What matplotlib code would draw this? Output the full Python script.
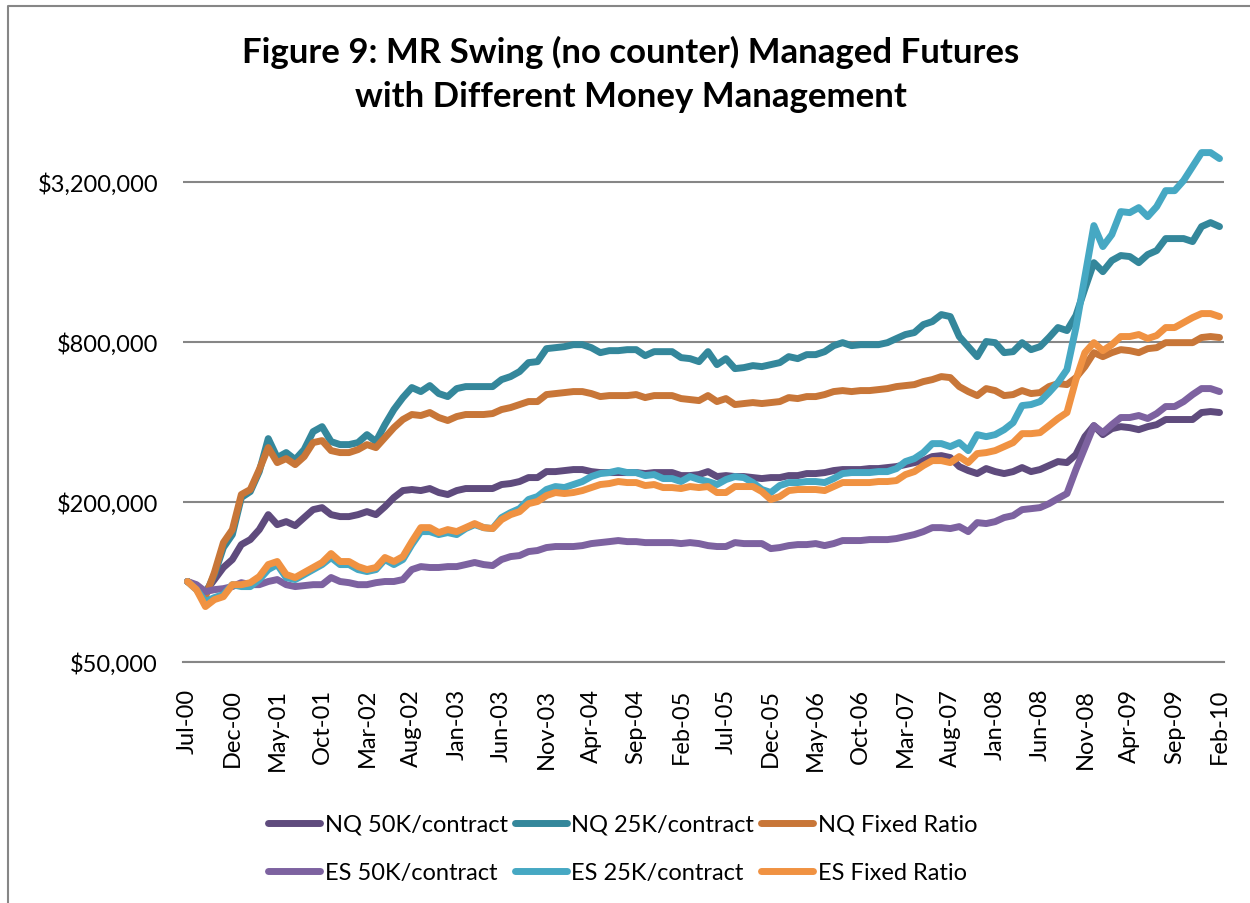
import numpy as np
import pandas as pd
import matplotlib
matplotlib.use("Agg")
import matplotlib.pyplot as plt
from matplotlib.ticker import FixedLocator, NullLocator, FuncFormatter
from matplotlib.lines import Line2D

plt.rcParams['font.family'] = ['Lato', 'DejaVu Sans']

# -------------------------------
# Monthly account equity, Jul-00 .. Feb-10
# -------------------------------

months = pd.date_range("2000-07-01", periods=116, freq="MS")
month_labels = [d.strftime("%b-%y") for d in months]

nq_50k = [100000, 95700, 91600, 101700, 112900, 121000, 137700, 143800, 156800, 178500,
          163700, 168000, 162300, 174000, 186400, 189700, 178500, 175500, 175500, 178500,
          183200, 178500, 191300, 207000, 219900, 221900, 219900, 223800, 216200, 212500,
          219900, 223800, 223800, 223800, 223800, 231700, 233700, 237800, 246100, 246100,
          259200, 259200, 261500, 263800, 263800, 259200, 257000, 257000, 257000, 257000,
          257000, 254800, 257000, 257000, 257000, 250400, 250400, 252600, 259200, 248300,
          250400, 248300, 248300, 246100, 244000, 246100, 246100, 250400, 250400, 254800,
          254800, 257000, 261500, 263800, 263800, 263800, 266100, 266100, 268400, 270700,
          275400, 280200, 285100, 295200, 297700, 292600, 270700, 261500, 254800, 266100,
          259200, 254800, 259200, 268400, 259200, 263800, 273100, 282700, 280200, 300300,
          350900, 385900, 357000, 376000, 382600, 379300, 372800, 382600, 389300, 407000,
          407000, 407000, 407000, 432400, 436100, 432400]

nq_25k = [100000, 94800, 89300, 106200, 134200, 150200, 207000, 218000, 259200, 344900,
          292600, 305600, 287600, 313600, 366400, 382600, 336100, 327500, 327500, 333200,
          357000, 336100, 389300, 443700, 492200, 536800, 518500, 546100, 509600, 496500,
          532100, 541400, 541400, 541400, 541400, 575200, 590400, 616400, 666300, 672100,
          752100, 758600, 765200, 778600, 778600, 758600, 726500, 739200, 739200, 745600,
          745600, 707900, 732800, 732800, 732800, 695800, 689800, 672100, 732800, 654900,
          689800, 632600, 638100, 649300, 643700, 654900, 666300, 701800, 689800, 714100,
          714100, 732800, 771900, 792200, 771900, 778600, 778600, 778600, 792200, 821000,
          849900, 864700, 926600, 951000, 1010400, 993000, 835300, 765200, 701800, 800000,
          792200, 726500, 732800, 792200, 745600, 765200, 828200, 902900, 879800, 1001700,
          1265300, 1584300, 1465700, 1613900, 1685100, 1670600, 1584300, 1699800, 1759500, 1952000,
          1952000, 1952000, 1902100, 2165600, 2241900, 2165600]

nq_fixed = [100000, 94800, 87700, 108100, 140100, 156800, 212500, 221900, 263800, 319100,
            280200, 290100, 275400, 295200, 333200, 339000, 310900, 305600, 305600, 313600,
            327500, 319100, 347900, 379300, 407000, 425000, 421300, 432400, 414100, 403500,
            417600, 425000, 425000, 425000, 428600, 443700, 451400, 463300, 475500, 475500,
            505200, 509600, 514000, 518500, 518500, 509600, 496500, 500800, 500800, 500800,
            505200, 492200, 500800, 500800, 500800, 488000, 483800, 479600, 500800, 475500,
            488000, 463300, 467400, 471400, 467400, 471400, 475500, 492200, 488000, 496500,
            496500, 505200, 518500, 523000, 518500, 523000, 523000, 527500, 532100, 541400,
            546100, 550800, 565400, 575200, 590400, 585200, 541400, 518500, 500800, 532100,
            523000, 500800, 505200, 523000, 509600, 514000, 541400, 555600, 550800, 585200,
            643700, 726500, 701800, 726500, 745600, 739200, 726500, 752100, 758600, 792200,
            792200, 792200, 792200, 828200, 835300, 828200]

es_50k = [100000, 97300, 91600, 93200, 94000, 95700, 99000, 97300, 97300, 100000,
          101700, 97300, 95700, 96500, 97300, 97300, 103500, 100000, 99000, 97300,
          97300, 99000, 100000, 100000, 101700, 110900, 113800, 112900, 112900, 113800,
          113800, 115800, 117900, 115800, 114800, 121000, 124100, 125200, 129600, 130800,
          134200, 135400, 135400, 135400, 136500, 138900, 140100, 141300, 142600, 141300,
          141300, 140100, 140100, 140100, 140100, 138900, 140100, 138900, 136500, 135400,
          135400, 140100, 138900, 138900, 138900, 133000, 134200, 136500, 137700, 137700,
          138900, 136500, 138900, 142600, 142600, 142600, 143800, 143800, 143800, 145100,
          147600, 150200, 154100, 159500, 159500, 158200, 160900, 154100, 166600, 165200,
          168000, 174000, 177000, 186400, 188000, 189700, 196300, 205300, 214300, 263800,
          319100, 385900, 363300, 389300, 414100, 414100, 421300, 410500, 428600, 455400,
          455400, 475500, 505200, 532100, 532100, 518500]

es_25k = [100000, 93200, 84000, 87000, 89300, 97300, 95700, 95700, 101700, 110900,
          115800, 103500, 101700, 106200, 110900, 115800, 123100, 115800, 115800, 110900,
          109000, 110900, 121000, 115800, 121000, 137700, 154100, 154100, 150200, 152800,
          150200, 158200, 163700, 159500, 158200, 174000, 181600, 188000, 203500, 208800,
          221900, 227700, 225700, 231700, 237800, 248300, 254800, 257000, 261500, 257000,
          257000, 250400, 252600, 244000, 244000, 237800, 248300, 241900, 237800, 231700,
          241900, 248300, 246100, 235700, 221900, 216200, 229700, 235700, 235700, 237800,
          237800, 235700, 244000, 254800, 257000, 257000, 257000, 259200, 259200, 266100,
          282700, 290100, 305600, 330300, 330300, 321800, 333200, 310900, 357000, 350900,
          357000, 372800, 396100, 459300, 463300, 475500, 514000, 560500, 627200, 902900,
          1403700, 2184500, 1821400, 2020800, 2465800, 2444500, 2552500, 2361400, 2574700, 2956800,
          2956800, 3227800, 3642900, 4112000, 4112000, 3904000]

es_fixed = [100000, 93200, 80500, 85500, 87700, 97300, 97300, 99000, 104400, 115800,
            118900, 106200, 103500, 108100, 112900, 117900, 127400, 118900, 118900, 113800,
            110900, 112900, 123100, 118900, 124100, 141300, 159500, 159500, 152800, 156800,
            154100, 159500, 165200, 159500, 158200, 171000, 178500, 183200, 196300, 200000,
            210600, 216200, 214300, 216200, 219900, 225700, 231700, 233700, 237800, 235700,
            235700, 229700, 231700, 225700, 225700, 223800, 227700, 225700, 227700, 216200,
            216200, 227700, 227700, 227700, 218000, 203500, 208800, 219900, 221900, 221900,
            221900, 219900, 227700, 235700, 235700, 235700, 235700, 237800, 237800, 239800,
            252600, 259200, 273100, 285100, 285100, 280200, 295200, 280200, 302900, 305600,
            310900, 321800, 333200, 360100, 360100, 363300, 385900, 410500, 432400, 575200,
            726500, 792200, 739200, 778600, 835300, 835300, 849900, 821000, 842600, 902900,
            902900, 942800, 984500, 1019200, 1019200, 993000]

series_names = ["NQ 50K/contract", "NQ 25K/contract", "NQ Fixed Ratio",
                "ES 50K/contract", "ES 25K/contract", "ES Fixed Ratio"]
series_values = [nq_50k, nq_25k, nq_fixed, es_50k, es_25k, es_fixed]
series_colors = ["#5F4B7D", "#34879B", "#C87638", "#7D62A0", "#46A8C3", "#F09242"]

y_ticks = [50000, 200000, 800000, 3200000]

# -------------------------------
# Figure
# -------------------------------

W, H = 1250, 904
fig = plt.figure(figsize=(W / 100, H / 100), dpi=100)
ax = fig.add_axes([183 / W, 1 - 662.5 / H, (1224 - 183) / W, (662.5 - 145) / H])

x = np.arange(len(months))
lines = []
for vals, name, color in zip(series_values, series_names, series_colors):
    ln, = ax.plot(x, vals, color=color, lw=5, label=name,
                  solid_joinstyle="round", solid_capstyle="round")
    lines.append(ln)

ax.set_yscale("log")
ax.set_ylim(50000, 4.43e6)
ax.set_xlim(-0.5, len(months) - 0.5)
ax.yaxis.set_major_locator(FixedLocator(y_ticks))
ax.yaxis.set_minor_locator(NullLocator())
ax.yaxis.set_major_formatter(FuncFormatter(lambda v, p: f"${v:,.0f}"))
ax.set_xticks(x[::5])
ax.set_xticklabels(month_labels[::5], rotation=90)
ax.xaxis.set_minor_locator(NullLocator())

ax.grid(axis="y", color="#868686", lw=1.5)
ax.set_axisbelow(True)
for s in ["left", "right", "top"]:
    ax.spines[s].set_visible(False)
ax.spines["bottom"].set_color("#868686")
ax.spines["bottom"].set_linewidth(1.5)
ax.tick_params(axis="y", length=0, labelsize=17, pad=18)
ax.tick_params(axis="x", length=0, labelsize=17, pad=19)

fig.text(631 / W, 1 - 52 / H, "Figure 9: MR Swing (no counter) Managed Futures",
         ha="center", va="center", fontsize=25, fontweight="bold")
fig.text(631 / W, 1 - 97 / H, "with Different Money Management",
         ha="center", va="center", fontsize=25, fontweight="bold")

# legend fills column by column, so interleave NQ / ES rows
order = [0, 3, 1, 4, 2, 5]
fig.legend([lines[i] for i in order], [series_names[i] for i in order],
           loc="upper left", bbox_to_anchor=(268 / W, 1 - 815 / H), ncol=3,
           frameon=False, fontsize=17, handlelength=2.2, handletextpad=0.2,
           columnspacing=0.3, labelspacing=1.15, borderpad=0, borderaxespad=0)

# chart-area frame (only left and top edges fall inside the picture)
fig.add_artist(Line2D([8 / W, 8 / W, 1.0], [0, 1 - 7 / H, 1 - 7 / H],
                      transform=fig.transFigure, color="#868686", lw=1.5))

plt.savefig("out.png", dpi=100)
plt.close()
